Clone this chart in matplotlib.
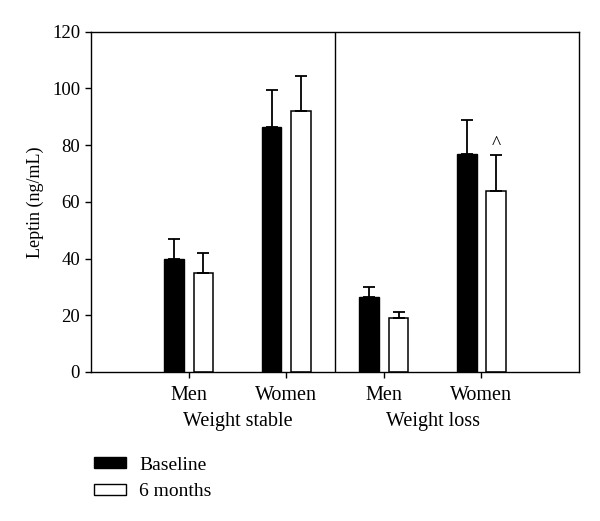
import matplotlib
matplotlib.use("Agg")
import matplotlib.pyplot as plt
from matplotlib.patches import Patch
import numpy as np

plt.rcParams['font.family'] = ['Liberation Serif', 'DejaVu Serif']

# Data
groups = ["Men", "Women", "Men", "Women"]
conditions = ["Weight stable", "Weight loss"]
baseline = [40, 86.5, 26.5, 77]
baseline_err = [7, 13, 3.5, 12]
six_months = [35, 92, 19, 64]
six_months_err = [7, 12.5, 2, 12.5]
series_names = ["Baseline", "6 months"]

x = np.arange(1, len(groups) + 1)
w = 0.2

fig = plt.figure(figsize=(6, 5.21), dpi=100)
ax = fig.add_axes([0.152, 0.286, 0.813, 0.653])

err_kw = dict(ecolor='black', elinewidth=1.3, capsize=4, capthick=1.3)
ax.bar(x - 0.15, baseline, w, color='black', edgecolor='black', linewidth=1,
       yerr=[np.zeros(len(x)), baseline_err], error_kw=err_kw)
ax.bar(x + 0.15, six_months, w, color='white', edgecolor='black', linewidth=1.1,
       yerr=[np.zeros(len(x)), six_months_err], error_kw=err_kw)

# significance mark on weight loss women, 6 months
ax.text(x[3] + 0.15, six_months[3] + six_months_err[3] + 0.8, "^",
        ha='center', va='bottom', fontsize=14)

ax.axvline(2.5, color='black', linewidth=1)
ax.set_xlim(0, 5)
ax.set_ylim(0, 120)
ax.set_yticks(np.arange(0, 121, 20))
ax.set_xticks(x)
ax.set_xticklabels(groups)
ax.tick_params(axis='both', direction='out', length=4, width=1)
ax.tick_params(axis='y', labelsize=13.5, pad=4)
ax.tick_params(axis='x', labelsize=14.5, pad=6)
ax.set_ylabel("Leptin (ng/mL)", fontsize=13, labelpad=6)
for s in ax.spines.values():
    s.set_linewidth(1)

for i, c in enumerate(conditions):
    ax.text(1.5 + 2 * i, -0.118, c, transform=ax.get_xaxis_transform(),
            ha='center', va='top', fontsize=14.5)

handles = [Patch(facecolor='black', edgecolor='black'),
           Patch(facecolor='white', edgecolor='black')]
fig.legend(handles, series_names, loc='upper left', bbox_to_anchor=(0.127, 0.157),
           frameon=False, fontsize=14, handlelength=1.65, handleheight=0.5,
           handletextpad=0.7, labelspacing=0.5)

fig.savefig("out.png", dpi=100)
